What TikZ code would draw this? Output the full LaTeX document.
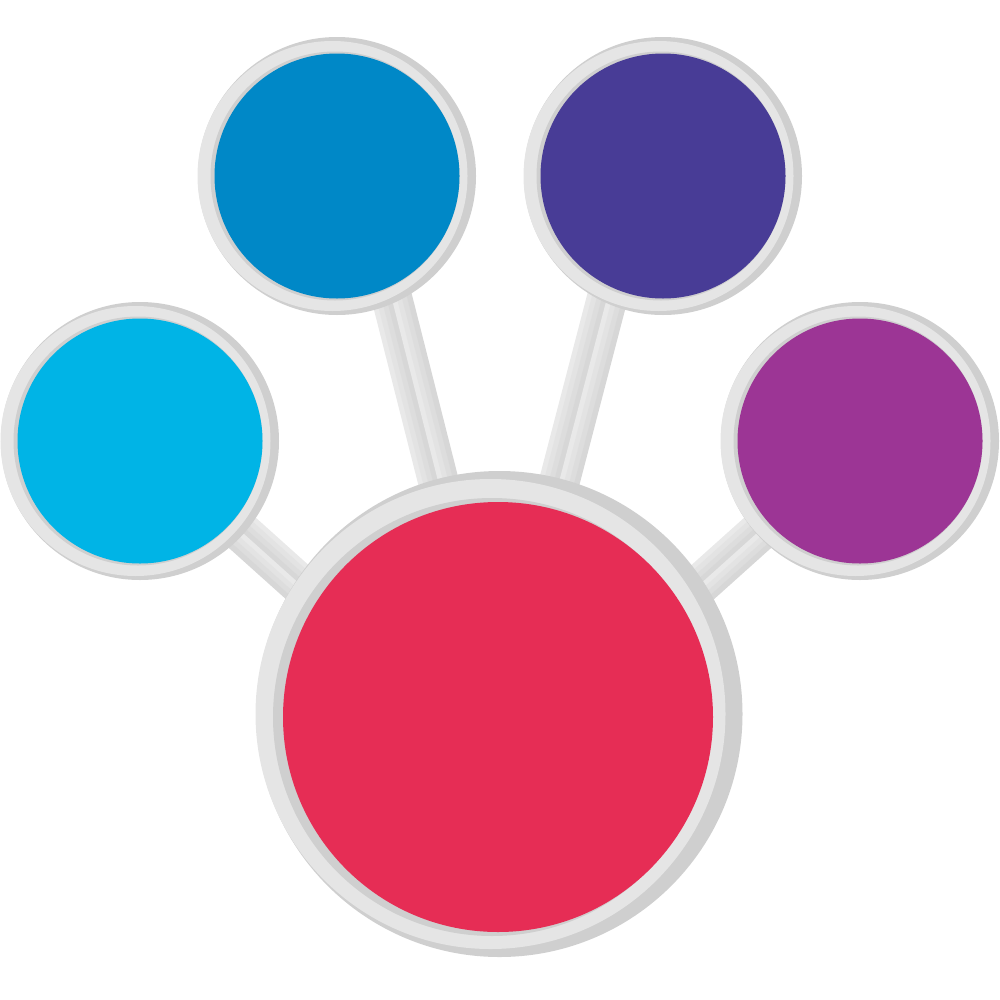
\documentclass[tikz,border=0pt]{standalone}
\usepackage{tikz}
\usetikzlibrary{calc}

\definecolor{ringlight}{HTML}{E5E5E5}
\definecolor{ringdark}{HTML}{CFCFCF}
\definecolor{barA}{HTML}{E9E9E9}
\definecolor{barB}{HTML}{E3E3E3}
\definecolor{barC}{HTML}{DDDDDD}
\definecolor{barD}{HTML}{D7D7D7}
\definecolor{cyanfill}{HTML}{00B4E6}
\definecolor{bluefill}{HTML}{0088C7}
\definecolor{indigofill}{HTML}{483C96}
\definecolor{purplefill}{HTML}{9C3595}
\definecolor{redfill}{HTML}{E62D55}

% gray two-tone stem from #1 to #2, each half shaded in four steps
\newcommand{\connbar}[2]{%
  \foreach \o/\col in {-0.175cm/barA, -0.125cm/barB, -0.075cm/barC, -0.025cm/barD,
                       0.025cm/barA, 0.075cm/barB, 0.125cm/barC, 0.175cm/barD} {
    \draw[line width=0.055cm, \col] ($(#1)!\o!90:(#2)$) -- ($(#2)!\o!-90:(#1)$);
  }
}

\begin{document}
\begin{tikzpicture}[x=0.01cm,y=-0.01cm]
  \useasboundingbox (0,0) rectangle (1000,1000);

  \coordinate (main) at (498,717);
  \coordinate (mainlow) at (500,764);
  \coordinate (cyan) at (140,441);
  \coordinate (blue) at (337,176);
  \coordinate (indigo) at (663,176);
  \coordinate (purple) at (860,441);
  \coordinate (bluestem) at (361,176);
  \coordinate (indigostem) at (639,176);

  \connbar{bluestem}{main}
  \connbar{indigostem}{main}
  \connbar{mainlow}{cyan}
  \connbar{purple}{mainlow}

  \foreach \c/\col in {cyan/cyanfill, blue/bluefill, indigo/indigofill, purple/purplefill} {
    \fill[ringdark] (\c) circle (139);
    \fill[ringlight] ($(\c)+(-4.5,0)$) circle (135);
    \fill[ringdark] ($(\c)+(-2,0)$) circle (124.5);
    \fill[\col] (\c) circle (122.5);
  }

  \fill[ringdark] ($(main)+(1.5,-3)$) circle (243);
  \fill[ringlight] ($(main)+(-7.5,-3)$) circle (235);
  \fill[ringdark] ($(main)+(-6,0)$) circle (219);
  \fill[redfill] (main) circle (215);
\end{tikzpicture}
\end{document}
